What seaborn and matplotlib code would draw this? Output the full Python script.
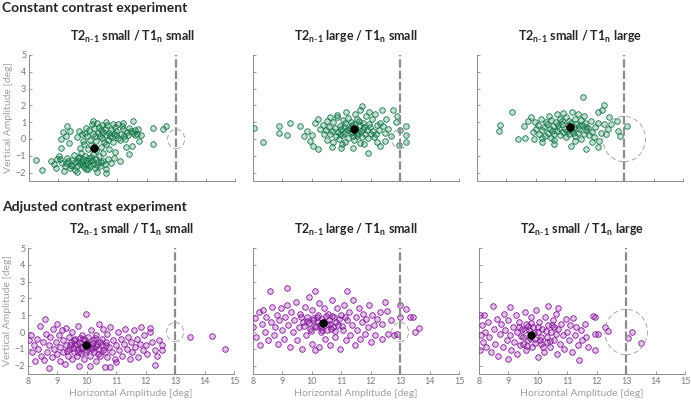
import numpy as np
import pandas as pd
import seaborn as sns
import matplotlib.pyplot as plt
from matplotlib.patches import Ellipse

# --- data (horizontal, vertical amplitude in deg) ---
const_ss = [
    # outliers
    (8.23, -1.25), (8.43, -1.85), (8.75, -1.3), (8.85, -1.5), (8.95, -1.2), (9.1, -0.55), (9.1, 0.0),
    (9.15, 0.4), (9.3, 0.8), (9.4, 0.5), (9.25, 0.2), (9.35, -0.25), (12.2, -0.3), (12.2, 0.65),
    (12.55, 0.6), (12.65, 0.75), (11.55, 1.05), (11.6, 0.55), (11.6, 0.25), (11.75, -0.1), (11.5, -0.4),
    (11.3, -0.5), (11.4, -0.9), (11.1, -1.3), (10.6, -2.05), (10.3, -1.95), (10.0, -1.8),
    # lower cluster
    (9.02, -1.04), (9.13, -1.42), (9.21, -1.63), (9.28, -1.12), (9.34, -1.31), (9.43, -1.52), (9.38, -1.74),
    (9.52, -0.97), (9.47, -1.23), (9.56, -1.38), (9.63, -1.58), (9.57, -1.83), (9.71, -1.07), (9.68, -1.29),
    (9.74, -1.47), (9.83, -1.18), (9.79, -1.36), (9.86, -1.69), (9.91, -1.02), (9.94, -1.27), (9.89, -1.51),
    (10.03, -1.16), (9.98, -1.41), (10.06, -1.62), (10.12, -1.08), (10.09, -1.33), (10.18, -1.48),
    (10.23, -1.72), (10.27, -1.19), (10.33, -1.37), (10.41, -1.58), (10.38, -1.03), (10.52, -1.28),
    (10.58, -1.49), (10.67, -1.22), (10.78, -1.41), (9.18, -1.88), (9.62, -1.97), (8.91, -1.73),
    (9.07, -1.17), (10.88, -1.12), (10.62, -1.77), (9.25, -1.45), (9.66, -1.15), (9.82, -1.55),
    (10.15, -1.25), (10.45, -1.35), (9.45, -1.62), (9.95, -1.78), (10.3, -1.55),
    # link
    (9.78, -0.82), (10.02, -0.58), (10.11, -0.37), (10.29, -0.68), (10.43, -0.47), (10.51, -0.83),
    (9.88, -0.28), (10.63, -0.32), (9.73, -0.51), (10.19, -0.91), (10.71, -0.62), (10.92, -0.77),
    # upper cluster
    (9.62, 0.12), (9.71, 0.47), (9.79, 0.28), (9.83, -0.13), (9.92, 0.68), (9.97, 0.18), (10.04, 0.52),
    (10.08, -0.04), (10.13, 0.87), (10.19, 0.31), (10.22, 0.63), (10.28, -0.12), (10.33, 0.38), (10.31, 0.98),
    (10.42, 0.17), (10.37, 0.72), (10.48, 0.03), (10.53, 0.41), (10.49, 0.86), (10.61, 0.23), (10.57, 0.61),
    (10.69, -0.08), (10.73, 0.37), (10.66, 0.81), (10.82, 0.12), (10.77, 0.53), (10.88, 0.29), (10.93, 0.72),
    (10.86, -0.18), (11.02, 0.08), (10.97, 0.47), (11.04, 0.91), (11.12, 0.32), (11.08, -0.07), (11.18, 0.58),
    (11.23, 0.19), (11.32, 0.42), (11.27, 0.02), (11.41, 0.68), (11.38, 0.24), (11.52, 0.33), (11.68, 0.28),
    (11.82, 0.22), (11.72, 0.62), (10.18, 1.08), (10.63, 1.03), (11.21, 0.96), (10.45, 0.55), (10.75, 0.15),
    (10.95, 0.25), (10.25, 0.15), (11.15, 0.75), (10.55, -0.2), (10.85, 0.9), (11.45, 0.5), (9.9, 0.35),
]
const_ls = [
    (8.02, 0.65), (8.34, -0.2), (8.88, 0.8), (8.88, 0.35), (9.25, 0.95), (9.16, 0.25), (9.6, 0.8),
    (9.73, 0.15), (9.84, 0.45), (9.95, -0.1), (10.0, 0.25), (10.1, 0.95), (10.05, -0.4), (10.2, -0.6),
    (13.2, 0.8), (13.2, 0.25), (13.2, -0.15), (13.0, 0.55), (12.9, 1.35), (12.75, 1.75), (12.4, 1.75),
    (11.9, -0.85), (11.7, 1.95), (12.85, 1.0), (12.6, 0.6), (12.7, 0.2), (12.5, -0.1), (12.3, -0.4),
    (11.4, -0.55), (11.0, -0.55), (10.7, -0.5), (12.95, -0.35),
    (10.42, 0.28), (10.38, 0.82), (10.51, -0.03), (10.47, 0.53), (10.53, 1.08), (10.62, 0.27), (10.58, 0.72),
    (10.71, -0.18), (10.68, 0.47), (10.73, 1.02), (10.82, 0.17), (10.78, 0.63), (10.84, 1.28), (10.91, -0.02),
    (10.88, 0.42), (10.94, 0.78), (11.03, 0.22), (10.98, 0.58), (11.06, 1.12), (11.12, -0.17), (11.08, 0.37),
    (11.13, 0.93), (11.22, 0.08), (11.18, 0.52), (11.24, 1.27), (11.32, 0.33), (11.28, 0.68), (11.34, 1.03),
    (11.42, -0.03), (11.38, 0.42), (11.44, 0.88), (11.52, 0.18), (11.48, 0.63), (11.53, 1.18), (11.62, -0.22),
    (11.58, 0.38), (11.64, 0.83), (11.72, 0.12), (11.68, 0.48), (11.74, 0.97), (11.82, 0.28), (11.78, 0.72),
    (11.83, 1.38), (11.92, 0.03), (11.88, 0.52), (11.94, 0.88), (12.02, 0.27), (11.98, 0.73), (12.04, 1.17),
    (12.12, 0.12), (12.08, 0.48), (12.21, 0.82), (12.18, 0.28), (12.32, 0.98), (12.28, 0.53), (12.42, 0.78),
    (12.48, 0.37), (12.52, 1.22), (11.47, 1.48), (11.17, 1.58), (11.93, 1.62), (12.13, 1.47), (10.63, 1.32),
    (10.28, 0.58), (10.22, 1.18), (11.03, -0.32), (11.77, -0.28), (12.23, -0.18), (10.87, 1.43), (11.63, 1.72),
    (11.25, 0.6), (11.55, 0.3), (11.1, 0.7), (11.35, 0.85), (11.6, 1.05), (10.95, 0.3), (11.75, 0.6),
    (11.4, 0.15),
]
const_sl = [
    (8.78, 0.85), (8.75, 0.5), (9.18, 1.6), (9.4, 0.0), (9.63, 0.05), (9.75, 1.1), (11.6, 2.5), (12.3, 2.05),
    (12.25, 1.75), (12.1, 1.6), (13.1, 0.8), (12.77, 1.1), (12.8, 0.5), (12.85, 0.2), (12.15, -0.1),
    (12.1, -0.5), (11.7, -0.6), (9.6, 0.75), (9.9, 0.4), (9.85, 1.3), (10.2, -0.2), (10.6, -0.3),
    (11.2, -0.4), (12.55, 0.9), (12.45, 0.6), (12.5, 1.3),
    (10.02, 0.58), (9.98, 1.02), (10.12, 0.28), (10.08, 0.82), (10.22, 0.52), (10.18, 1.18), (10.32, 0.18),
    (10.28, 0.72), (10.33, 1.03), (10.42, 0.38), (10.38, 0.92), (10.43, 1.38), (10.52, 0.08), (10.48, 0.62),
    (10.53, 1.12), (10.62, 0.32), (10.58, 0.78), (10.72, 0.48), (10.68, 1.02), (10.73, 1.48), (10.82, 0.22),
    (10.78, 0.68), (10.83, 1.18), (10.92, 0.42), (10.88, 0.88), (11.02, 0.12), (10.98, 0.62), (11.03, 1.28),
    (11.12, 0.28), (11.08, 0.82), (11.13, 1.08), (11.22, 0.52), (11.18, 0.98), (11.23, 1.58), (11.32, 0.18),
    (11.28, 0.72), (11.33, 1.22), (11.42, 0.38), (11.38, 0.92), (11.52, 0.02), (11.48, 0.58), (11.53, 1.12),
    (11.62, 0.28), (11.58, 0.82), (11.63, 1.38), (11.72, 0.52), (11.68, 0.98), (11.82, 0.22), (11.78, 0.68),
    (11.92, 0.42), (11.88, 1.08), (12.02, 0.72), (11.98, 0.12), (12.12, 0.98), (12.22, 0.38), (11.42, 1.48),
    (10.92, 1.52), (10.62, -0.03), (11.32, -0.13), (11.92, -0.18), (12.32, 0.88), (12.37, 0.32), (9.92, 0.02),
    (10.22, 0.03), (10.75, 0.85), (11.05, 0.45), (11.25, 0.35), (11.45, 0.75), (10.55, 0.45), (11.15, 0.6),
    (10.9, 1.05), (11.7, 0.7),
]
adj_ss = [
    (8.05, -0.5), (8.1, -0.2), (8.15, -1.17), (8.2, -0.8), (8.25, -1.7), (8.3, -0.4), (8.35, -1.0),
    (8.4, 0.35), (8.45, -1.4), (8.5, -0.6), (8.55, -1.65), (8.59, 0.78), (8.6, -0.1), (8.65, -1.2),
    (8.7, -0.8), (8.72, -2.17), (8.75, -0.3), (8.8, -1.5), (8.85, 0.2), (8.9, -1.0), (8.95, -0.6),
    (9.0, 0.48), (9.0, -1.3), (9.05, -0.2), (9.1, -1.7), (9.1, -0.9), (9.15, 0.1), (9.2, -0.5), (9.2, -1.2),
    (9.25, -1.9), (9.3, -0.8), (9.3, 0.25), (9.35, -1.4), (9.4, -0.3), (9.4, -1.0), (9.45, -0.6), (9.5, -1.6),
    (9.5, 0.0), (9.55, -1.2), (9.6, -0.8), (9.6, -0.4), (9.65, -1.4), (9.7, 0.35), (9.7, -1.0), (9.75, -0.6),
    (9.75, -2.0), (9.8, -1.25), (9.85, -0.2), (9.85, -0.9), (9.9, -1.6), (9.95, -0.5), (9.97, 1.07),
    (10.0, -1.1), (10.05, -0.3), (10.05, -0.75), (10.1, -2.0), (10.1, -1.4), (10.15, 0.1), (10.2, -0.9),
    (10.2, -0.5), (10.25, -1.2), (10.3, -1.7), (10.3, -0.2), (10.35, -0.7), (10.4, 0.5), (10.4, -1.0),
    (10.45, -1.4), (10.5, -0.4), (10.5, -0.8), (10.55, 0.2), (10.6, -1.2), (10.6, -2.1), (10.65, -0.6),
    (10.7, -1.5), (10.7, -0.1), (10.75, -0.9), (10.8, -2.1), (10.8, 0.3), (10.85, -1.2), (10.9, -0.5),
    (10.95, -1.6), (11.0, -1.77), (11.0, -0.8), (11.05, 0.0), (11.1, -1.1), (11.15, -0.4), (11.2, -1.4),
    (11.25, -0.7), (11.3, 0.2), (11.35, -1.0), (11.4, -0.3), (11.45, -1.6), (11.5, -0.6), (11.55, -1.2),
    (11.6, 0.1), (11.65, -0.9), (11.7, -0.4), (11.75, -1.5), (11.8, -0.7), (11.85, 0.3), (11.9, -1.1),
    (11.95, -0.2), (12.0, -0.8), (12.05, -1.3), (12.13, 0.22), (12.15, 0.0), (12.2, -0.6), (12.3, -1.97),
    (12.3, -1.1), (12.4, -1.43), (12.45, -0.5), (12.55, -0.8), (12.55, -1.07), (13.5, -0.3), (14.25, -0.25),
    (14.7, -1.0),
    (9.52, -0.93), (9.67, -0.72), (9.81, -0.97), (9.92, -1.18), (10.02, -0.63), (10.16, -1.04), (10.31, -0.86),
    (10.44, -0.58), (10.56, -1.07), (9.57, -0.48), (9.71, -1.22), (10.26, -0.33), (9.42, -0.76), (10.64, -0.78),
    (9.88, -0.42), (10.11, -0.96), (9.33, -1.12), (10.38, -1.28), (9.76, -0.35), (10.21, -0.68),
]
adj_ls = [
    (8.0, 0.3), (8.08, 0.82), (8.1, -0.3), (8.2, 1.2), (8.25, -0.78), (8.3, 0.5), (8.35, 1.3), (8.4, 0.0),
    (8.45, 0.9), (8.5, -0.5), (8.59, 2.47), (8.6, 0.6), (8.65, 1.5), (8.7, -0.2), (8.75, 0.3), (8.8, 1.0),
    (8.85, -0.7), (8.9, 0.7), (8.95, 1.4), (9.0, 0.1), (9.05, -0.4), (9.1, 0.9), (9.15, 2.62), (9.15, 1.6),
    (9.2, 0.4), (9.25, -0.9), (9.3, 1.2), (9.35, 0.0), (9.4, 0.7), (9.45, 1.8), (9.5, -0.5), (9.55, 0.3),
    (9.6, 1.1), (9.65, -1.0), (9.7, 0.6), (9.75, 1.5), (9.8, -0.2), (9.85, 0.9), (9.9, 2.1), (9.95, 0.2),
    (10.0, 1.3), (10.0, -0.7), (10.05, 0.7), (10.1, -1.1), (10.12, 2.47), (10.15, 0.3), (10.2, 1.0),
    (10.23, -0.9), (10.25, 1.7), (10.3, 0.0), (10.35, 0.8), (10.4, 1.4), (10.45, -0.4), (10.5, 0.5),
    (10.55, 1.1), (10.6, -0.8), (10.65, 0.2), (10.7, 1.9), (10.75, 0.9), (10.8, -0.3), (10.85, 1.4),
    (10.9, 0.4), (10.95, -1.0), (11.0, 1.0), (11.05, 0.1), (11.1, 1.6), (11.15, -0.5), (11.19, 2.43),
    (11.2, 0.7), (11.25, 1.2), (11.3, -0.2), (11.35, 0.4), (11.4, 1.9), (11.45, -0.8), (11.5, 0.9),
    (11.55, 0.1), (11.6, 1.4), (11.65, -0.4), (11.7, 0.6), (11.75, 1.1), (11.8, -0.1), (11.85, 0.8),
    (11.9, 0.3), (11.95, 1.6), (12.0, -0.6), (12.05, 1.0), (12.1, 0.4), (12.15, -0.2), (12.2, 0.8),
    (12.3, 1.2), (12.38, -0.42), (12.4, 0.5), (12.5, 1.77), (12.55, 1.27), (12.6, -0.12), (12.7, 0.7),
    (12.8, -0.2), (12.9, -0.12), (13.0, 1.6), (13.0, 0.87), (13.2, 1.37), (13.34, 0.87), (13.45, 0.87),
    (13.51, 0.02), (13.64, 0.22),
    (9.72, 0.33), (9.91, 0.52), (10.03, 0.83), (10.12, 0.38), (10.21, 0.62), (10.32, 0.27), (10.41, 0.58),
    (10.47, 0.93), (10.61, 0.48), (10.72, 0.31), (10.83, 0.62), (10.92, 0.77), (10.26, 0.42), (10.57, 0.73),
    (9.82, 0.68), (11.02, 0.37), (10.17, 0.88), (10.52, 0.13), (9.63, 0.87), (11.12, 0.92), (10.36, 0.12),
    (10.68, 0.98), (9.97, 0.03), (10.78, 0.08),
]
adj_sl = [
    (8.03, -1.08), (8.05, 1.04), (8.07, -0.16), (8.1, 0.4), (8.15, -0.6), (8.17, 1.0), (8.2, 0.0),
    (8.25, -0.9), (8.3, 0.6), (8.35, -0.3), (8.4, -1.2), (8.46, 1.57), (8.5, 0.2), (8.55, -0.7), (8.6, 0.8),
    (8.65, -1.4), (8.7, -0.1), (8.75, 0.5), (8.8, -0.9), (8.85, 1.1), (8.9, 0.1), (8.95, -0.5), (9.0, -1.63),
    (9.0, 0.7), (9.05, 1.51), (9.05, -0.2), (9.1, -1.1), (9.15, 0.3), (9.2, -0.6), (9.25, 1.0), (9.3, -1.3),
    (9.3, 0.0), (9.35, 0.6), (9.4, -0.8), (9.45, 0.2), (9.5, -0.3), (9.55, 1.2), (9.6, -1.1), (9.6, 0.5),
    (9.65, -0.5), (9.7, 0.1), (9.75, 0.9), (9.8, -0.9), (9.85, 0.3), (9.9, -0.4), (9.95, 1.3), (10.0, -1.47),
    (10.0, 0.0), (10.05, 0.6), (10.1, -0.7), (10.15, 0.2), (10.2, -1.2), (10.25, 0.9), (10.3, -0.3),
    (10.34, 1.57), (10.35, 0.4), (10.4, -0.9), (10.45, 0.0), (10.5, 0.7), (10.55, -0.5), (10.6, 1.1),
    (10.65, -1.3), (10.67, 1.43), (10.7, 0.2), (10.75, -0.7), (10.8, 0.5), (10.85, -0.2), (10.9, -1.0),
    (10.95, 0.8), (11.0, 0.0), (11.05, -0.5), (11.1, 0.4), (11.15, -1.2), (11.2, 0.84), (11.25, -0.2),
    (11.3, 0.3), (11.35, -0.8), (11.4, -1.66), (11.45, 0.1), (11.5, -0.5), (11.6, 0.5), (11.65, -0.3),
    (11.7, -0.9), (11.88, 0.98), (11.95, 0.92), (11.95, -0.14), (11.95, -1.08), (12.06, -0.14),
    (12.29, 0.29), (12.4, 0.06), (13.2, 0.0), (13.08, -0.33), (13.5, -0.63),
    (9.42, -0.23), (9.57, 0.12), (9.72, -0.38), (9.86, -0.08), (10.02, 0.32), (10.12, -0.28), (10.27, 0.08),
    (10.41, -0.52), (10.56, 0.28), (9.66, 0.33), (9.91, -0.68), (10.31, -0.62), (9.51, -0.72), (10.17, -0.88),
    (10.62, -0.12), (9.36, 0.28), (9.78, 0.52), (10.47, 0.42), (9.62, -0.82), (10.08, -0.48),
]

const_means = [(10.2, -0.55), (11.43, 0.6), (11.15, 0.7)]
adj_means = [(9.97, -0.8), (10.38, 0.54), (9.77, -0.15)]
panel_titles = [r"T2$_\mathbf{n\text{-}1}$ small / T1$_\mathbf{n}$ small",
                r"T2$_\mathbf{n\text{-}1}$ large / T1$_\mathbf{n}$ small",
                r"T2$_\mathbf{n\text{-}1}$ small / T1$_\mathbf{n}$ large"]
row_titles = ["Constant contrast experiment", "Adjusted contrast experiment"]
# target circle (center x, center y, width, height in deg)
circles = [(13, 0, 0.58, 1.15), (13, 0, 0.58, 1.15), (13, 0, 1.45, 2.7)]
cutoff = 13

sns.set_style("white")
plt.rcParams['font.family'] = ['Lato', 'DejaVu Sans']
plt.rcParams['mathtext.fontset'] = 'custom'
plt.rcParams['mathtext.rm'] = 'Lato'
plt.rcParams['mathtext.bf'] = 'Lato:bold'

fig = plt.figure(figsize=(6.91, 4.03), dpi=100)

green_edge = '#16774a'
green_face = (0.10, 0.50, 0.31, 0.25)
purple_edge = '#86179a'
purple_face = (0.54, 0.10, 0.62, 0.25)

rows = [
    dict(data=[const_ss, const_ls, const_sl], means=const_means, edge=green_edge, face=green_face,
         lefts=[29, 253, 477], top=55, bottom=181, title_y=8),
    dict(data=[adj_ss, adj_ls, adj_sl], means=adj_means, edge=purple_edge, face=purple_face,
         lefts=[28, 253, 479], top=248, bottom=374, title_y=207),
]
W, H = 691, 403
axw = 206

for r, row in enumerate(rows):
    fig.text(2 / W, 1 - row['title_y'] / H, row_titles[r], fontsize=10, fontweight='bold',
             va='center', ha='left')
    for c in range(3):
        left = row['lefts'][c]
        ax = fig.add_axes([left / W, 1 - row['bottom'] / H, axw / W, (row['bottom'] - row['top']) / H])
        df = pd.DataFrame(row['data'][c], columns=['h', 'v'])
        sns.scatterplot(data=df, x='h', y='v', ax=ax, s=16, facecolor=row['face'],
                        edgecolor=row['edge'], linewidth=0.6, zorder=3)
        m = pd.DataFrame([row['means'][c]], columns=['h', 'v'])
        sns.scatterplot(data=m, x='h', y='v', ax=ax, s=30, color='black', edgecolor='black',
                        linewidth=0.5, zorder=5)
        ax.axvline(cutoff, color='#8c8c8c', lw=1.6, dashes=(3.8, 1.3), zorder=4)
        cx, cy, cw, ch = circles[c]
        ax.add_patch(Ellipse((cx, cy), cw, ch, fill=False, ec='#a8a8a8', lw=0.7,
                             ls=(0, (5, 3)), zorder=4))
        ax.set_xlim(8, 15)
        ax.set_ylim(-2.5, 5)
        ax.set_xticks(range(8, 16))
        ax.set_yticks(range(-2, 6))
        sns.despine(ax=ax)
        for s in ['left', 'bottom']:
            ax.spines[s].set_color('#8a8a8a')
            ax.spines[s].set_linewidth(0.7)
        ax.tick_params(direction='in', length=2.5, width=0.6, color='#8a8a8a',
                       labelsize=6.5, labelcolor='#7a7a7a', pad=2,
                       labelbottom=(r == 1), labelleft=(c == 0), bottom=True, left=True)
        ax.set_xlabel('Horizontal Amplitude [deg]' if r == 1 else '', fontsize=7.5,
                      color='#a0a0a0', labelpad=2)
        ax.set_ylabel('Vertical Amplitude [deg]' if c == 0 else '', fontsize=7.5,
                      color='#a0a0a0', labelpad=2)
        ax.set_title(panel_titles[c], fontsize=9, fontweight='bold', pad=10)

fig.savefig('out.png', dpi=100)
